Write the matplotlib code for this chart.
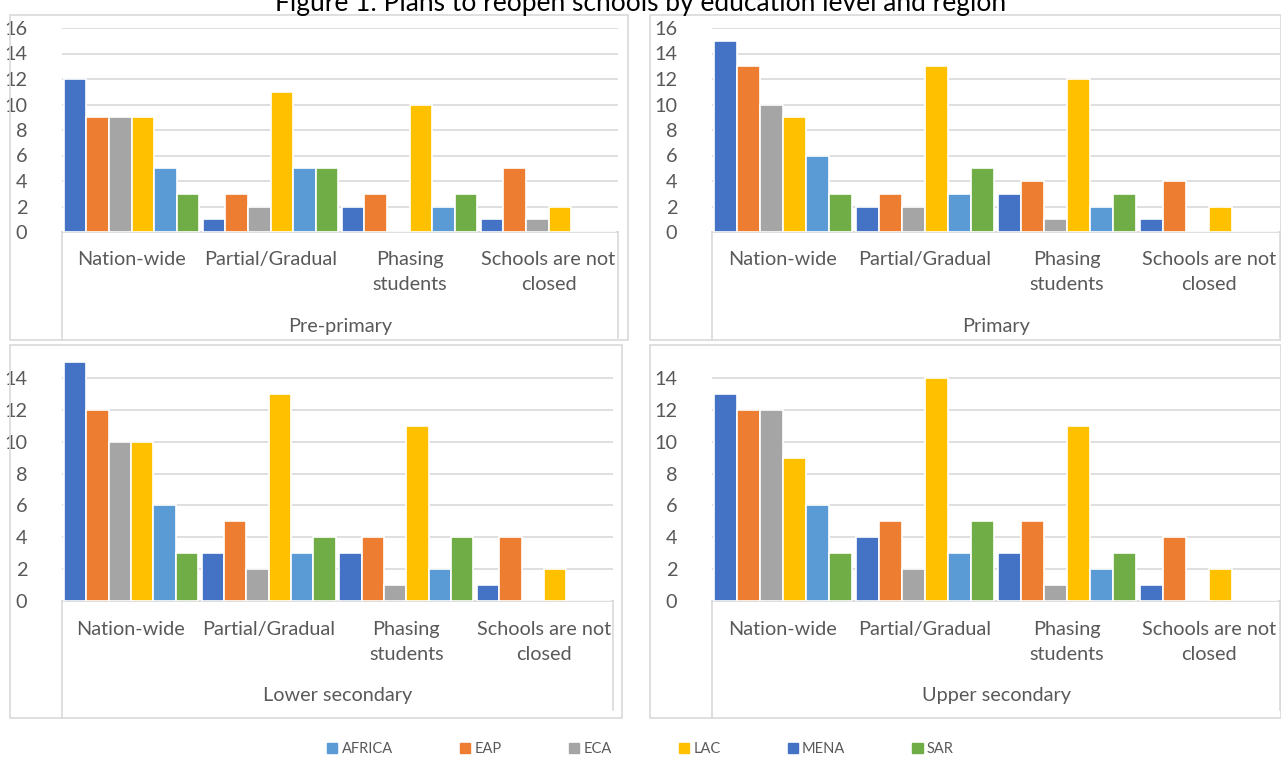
import numpy as np
import matplotlib.pyplot as plt
from matplotlib.lines import Line2D
from matplotlib.patches import Rectangle, Patch

plt.rcParams['font.family'] = ['Lato', 'DejaVu Sans']

categories = ["Nation-wide", "Partial/Gradual", "Phasing\nstudents", "Schools are not\nclosed"]
regions = ["MENA", "EAP", "ECA", "LAC", "AFRICA", "SAR"]
legend_order = ["AFRICA", "EAP", "ECA", "LAC", "MENA", "SAR"]
colors = {"MENA": "#4472C4", "EAP": "#ED7D31", "ECA": "#A5A5A5",
          "LAC": "#FFC000", "AFRICA": "#5B9BD5", "SAR": "#70AD47"}

pre_primary = {
    "MENA": [12, 1, 2, 1], "EAP": [9, 3, 3, 5], "ECA": [9, 2, 0, 1],
    "LAC": [9, 11, 10, 2], "AFRICA": [5, 5, 2, 0], "SAR": [3, 5, 3, 0],
}
primary = {
    "MENA": [15, 2, 3, 1], "EAP": [13, 3, 4, 4], "ECA": [10, 2, 1, 0],
    "LAC": [9, 13, 12, 2], "AFRICA": [6, 3, 2, 0], "SAR": [3, 5, 3, 0],
}
lower_secondary = {
    "MENA": [15, 3, 3, 1], "EAP": [12, 5, 4, 4], "ECA": [10, 2, 1, 0],
    "LAC": [10, 13, 11, 2], "AFRICA": [6, 3, 2, 0], "SAR": [3, 4, 4, 0],
}
upper_secondary = {
    "MENA": [13, 4, 3, 1], "EAP": [12, 5, 5, 4], "ECA": [12, 2, 1, 0],
    "LAC": [9, 14, 11, 2], "AFRICA": [6, 3, 2, 0], "SAR": [3, 5, 3, 0],
}

W, H = 1281, 758
fig = plt.figure(figsize=(W / 100, H / 100), dpi=100)

grid_c = "#D9D9D9"
text_c = "#595959"
fs = 14.3


def fx(x):
    return x / W


def fy(y):
    return 1 - y / H


def panel(data, name, box, plot, ymax, yticks, label_y, name_y, right_line_bottom):
    # outer chart border
    bl, bt, br, bb = box
    fig.patches.append(Rectangle((fx(bl), fy(bb)), fx(br - bl), (bb - bt) / H,
                                 transform=fig.transFigure, fill=False,
                                 edgecolor=grid_c, lw=1.2))
    l, t, r, b = plot
    ax = fig.add_axes([fx(l), fy(b), fx(r - l), (b - t) / H])
    x = np.arange(len(categories))
    w = 0.162
    for i, reg in enumerate(regions):
        ax.bar(x + (i - 2.5) * w, data[reg], width=w, color=colors[reg],
               edgecolor="white", linewidth=1.2, zorder=3)
    ax.set_xlim(-0.5, len(categories) - 0.5)
    ax.set_ylim(0, ymax)
    ax.set_yticks(yticks)
    ax.tick_params(axis="y", length=0, labelsize=fs, labelcolor=text_c, pad=25)
    ax.set_xticks([])
    ax.grid(axis="y", color=grid_c, lw=1.2, zorder=0)
    for s in ["top", "right", "left"]:
        ax.spines[s].set_visible(False)
    ax.spines["bottom"].set_color(grid_c)
    ax.spines["bottom"].set_linewidth(1.2)
    # category labels
    for xi, c in zip(x, categories):
        fig.text(fx(l + (xi + 0.5) * (r - l) / len(categories)), fy(label_y), c,
                 ha="center", va="top", fontsize=fs, color=text_c, linespacing=1.6)
    fig.text(fx((l + r) / 2), fy(name_y), name, ha="center", va="center",
             fontsize=fs, color=text_c)
    fig.lines.append(Line2D([fx(l), fx(l)], [fy(b), fy(bb)], transform=fig.transFigure,
                            color=grid_c, lw=1.2))
    fig.lines.append(Line2D([fx(r), fx(r)], [fy(b), fy(right_line_bottom)],
                            transform=fig.transFigure, color=grid_c, lw=1.2))
    return ax


panel(pre_primary, "Pre-primary", (10, 15, 628, 340), (62, 28, 618, 232),
      16, range(0, 17, 2), 251, 327, 338)
panel(primary, "Primary", (650, 15, 1281, 340), (712, 28, 1280, 232),
      16, range(0, 17, 2), 251, 327, 338)
panel(lower_secondary, "Lower secondary", (10, 345, 622, 718), (62, 354, 613, 601),
      15.5, range(0, 15, 2), 621, 696, 710)
panel(upper_secondary, "Upper secondary", (650, 345, 1281, 718), (712, 354, 1280, 601),
      15.5, range(0, 15, 2), 621, 696, 710)

fig.text(0.5, fy(3), "Figure 1: Plans to reopen schools by education level and region",
         ha="center", va="center", fontsize=19, color="black")

handles = [Patch(color=colors[r]) for r in legend_order]
fig.legend(handles, legend_order, loc="center", bbox_to_anchor=(0.5, fy(749)),
           ncol=6, frameon=False, fontsize=10.5, labelcolor=text_c,
           handlelength=0.7, handleheight=0.7, handletextpad=0.3, columnspacing=4.6)

fig.savefig("out.png", dpi=100)
